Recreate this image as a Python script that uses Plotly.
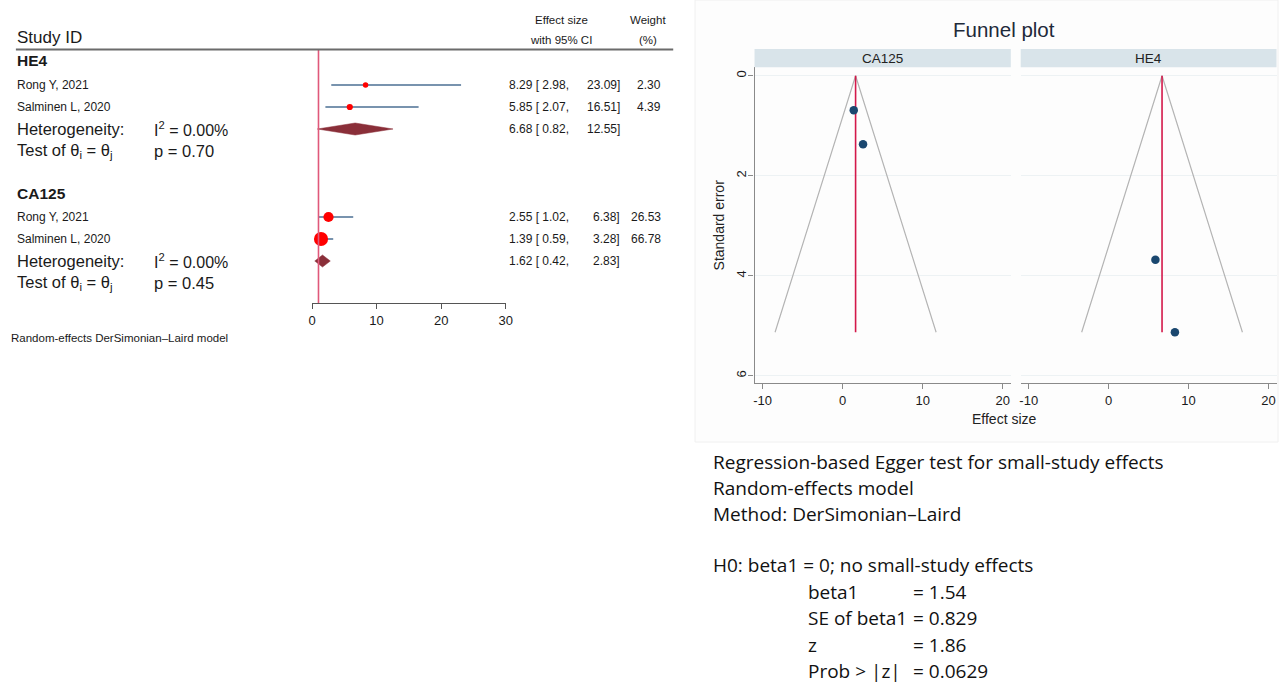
import plotly.graph_objects as go

W, H = 1285, 683

# ---------------- data ----------------
groups = ["HE4", "CA125"]
studies = ["Rong Y, 2021", "Salminen L, 2020"]
es = {"HE4": [8.29, 5.85], "CA125": [2.55, 1.39]}
lo = {"HE4": [2.98, 2.07], "CA125": [1.02, 0.59]}
hi = {"HE4": [23.09, 16.51], "CA125": [6.38, 3.28]}
weight = {"HE4": [2.30, 4.39], "CA125": [26.53, 66.78]}
pooled_es = {"HE4": 6.68, "CA125": 1.62}
pooled_lo = {"HE4": 0.82, "CA125": 0.42}
pooled_hi = {"HE4": 12.55, "CA125": 2.83}
i2 = {"HE4": 0.00, "CA125": 0.00}
p_het = {"HE4": 0.70, "CA125": 0.45}
null_value = 1
forest_ticks = [0, 10, 20, 30]

funnel_panels = ["CA125", "HE4"]
funnel_se = {"CA125": [1.37, 0.69], "HE4": [5.13, 3.68]}
funnel_ticks_x = [-10, 0, 10, 20]
funnel_ticks_y = [0, 2, 4, 6]

egger_header = ["Regression-based Egger test for small-study effects",
                "Random-effects model",
                "Method: DerSimonian\u2013Laird"]
egger_h0 = "H0: beta1 = 0; no small-study effects"
egger_labels = ["beta1", "SE of beta1", "z", "Prob > |z|"]
egger_values = ["1.54", "0.829", "1.86", "0.0629"]

# ---------------- helpers ----------------
def px(x):
    return x / W

def py(y):
    return 1 - y / H

ROW0, ROWH = 63.0, 22.0

def row_of(ypx):
    return (ypx - ROW0) / ROWH

ARIAL = "Liberation Sans, Arial, sans-serif"
MYR = "Open Sans, Noto Sans, sans-serif"

fig = go.Figure()
ann = []
shapes = []

def text(x, y, s, size, anchor="left", font=ARIAL, color="#1a1a1a", bold=False, yshift=0):
    ann.append(dict(x=px(x), y=py(y), xref="paper", yref="paper", text=("<b>%s</b>" % s) if bold else s,
                    showarrow=False, xanchor=anchor, yanchor="middle", yshift=yshift, borderpad=0,
                    font=dict(family=font, size=size, color=color)))

LX = 12  # left text column of forest plot

# ---------------- forest plot ----------------
CI_COLOR = "#4b6f93"
group_rows = {"HE4": 0, "CA125": 6}
for g in groups:
    r0 = group_rows[g]
    text(LX, ROW0 + ROWH * r0, g, 15.5, bold=True, yshift=2)
    for k, s in enumerate(studies):
        r = r0 + 1 + k
        yy = ROW0 + ROWH * r
        fig.add_trace(go.Scatter(x=[lo[g][k], hi[g][k]], y=[r, r], mode="lines",
                                 line=dict(color=CI_COLOR, width=1.4), xaxis="x", yaxis="y",
                                 showlegend=False, hoverinfo="skip"))
        fig.add_trace(go.Scatter(x=[es[g][k]], y=[r], mode="markers",
                                 marker=dict(color="#ff0000", size=3.5 + 1.3 * weight[g][k] ** 0.5, line=dict(width=0)),
                                 xaxis="x", yaxis="y", showlegend=False, cliponaxis=False))
        text(LX, yy, s, 12)
        text(508, yy, "%.2f [ %.2f," % (es[g][k], lo[g][k]), 12)
        text(622, yy, "%.2f]" % hi[g][k], 12, anchor="right")
        text(664, yy, "%.2f" % weight[g][k], 12, anchor="right")
    # pooled diamond
    r = r0 + 3
    h = 6.0 / ROWH
    fig.add_trace(go.Scatter(x=[pooled_lo[g], pooled_es[g], pooled_hi[g], pooled_es[g], pooled_lo[g]],
                             y=[r, r - h, r, r + h, r], mode="lines", fill="toself",
                             fillcolor="#8a2f39", line=dict(color="#8a2f39", width=0.5),
                             xaxis="x", yaxis="y", showlegend=False, hoverinfo="skip"))
    yy = ROW0 + ROWH * r
    text(LX, yy, "Heterogeneity:", 16.5)
    text(150, yy, "I<sup>2</sup> = %.2f%%" % i2[g], 16)
    text(508, yy, "%.2f [ %.2f," % (pooled_es[g], pooled_lo[g]), 12)
    text(622, yy, "%.2f]" % pooled_hi[g], 12, anchor="right")
    yy = ROW0 + ROWH * (r + 1)
    text(LX, yy, "Test of \u03b8<sub>i</sub> = \u03b8<sub>j</sub>", 16.5)
    text(150, yy, "p = %.2f" % p_het[g], 16.5)

# null line
fig.add_trace(go.Scatter(x=[null_value, null_value], y=[row_of(50), row_of(303.3)], mode="lines",
                         line=dict(color="#e0587a", width=1.6), xaxis="x", yaxis="y",
                         showlegend=False, hoverinfo="skip", cliponaxis=False))

# header texts
text(LX, 38, "Study ID", 17)
text(562, 20, "Effect size", 11.5, anchor="center")
text(562, 40, "with 95% CI", 11.5, anchor="center")
text(650, 20, "Weight", 11.5, anchor="center")
text(650, 40, "(%)", 11.5, anchor="center")
shapes.append(dict(type="line", xref="paper", yref="paper", x0=px(12), x1=px(675), y0=py(49.5), y1=py(49.5),
                   line=dict(color="#6b6b6b", width=2)))
text(6, 338, "Random-effects DerSimonian\u2013Laird model", 11.5)

# ---------------- funnel plot ----------------
shapes.append(dict(type="rect", xref="paper", yref="paper", x0=px(697), x1=px(1285), y0=py(442), y1=py(0),
                   fillcolor="#fdfdfd", line=dict(color="#f0f0f0", width=1), layer="below"))

semax = max(max(v) for v in funnel_se.values())
panel_dom = {"CA125": (757, 1015.5), "HE4": (1025.5, 1283.5)}
panel_axes = {"CA125": ("x2", "y2"), "HE4": ("x3", "y3")}
for g in funnel_panels:
    xa, ya = panel_axes[g]
    theta = pooled_es[g]
    fig.add_trace(go.Scatter(x=[theta - 1.96 * semax, theta, theta + 1.96 * semax], y=[semax, 0, semax],
                             mode="lines", line=dict(color="#b4b4b4", width=1.2), xaxis=xa, yaxis=ya,
                             showlegend=False, hoverinfo="skip"))
    fig.add_trace(go.Scatter(x=[theta, theta], y=[0, semax], mode="lines",
                             line=dict(color="#d3184a", width=1.6), xaxis=xa, yaxis=ya,
                             showlegend=False, hoverinfo="skip"))
    fig.add_trace(go.Scatter(x=es[g], y=funnel_se[g], mode="markers",
                             marker=dict(color="#1a476f", size=8.5, line=dict(width=0)),
                             xaxis=xa, yaxis=ya, showlegend=False, cliponaxis=False))
    x0, x1 = panel_dom[g]
    shapes.append(dict(type="rect", xref="paper", yref="paper", x0=px(x0), x1=px(x1), y0=py(67.3), y1=py(49),
                       fillcolor="#d9e4ea", line=dict(width=0)))
    text((x0 + x1) / 2, 58, g, 13.5, anchor="center", color="#222222")

text(1009, 30, "Funnel plot", 20.5, anchor="center", color="#1e2a3a")
text(1009, 419, "Effect size", 14, anchor="center", color="#222222")

# Egger text
EF = 19
for i, s in enumerate(egger_header):
    text(714, 462 + 25.8 * i, s, EF, font=MYR, color="#111111")
text(714, 564.5, egger_h0, EF, font=MYR, color="#111111")
for i, (lab, val) in enumerate(zip(egger_labels, egger_values)):
    yy = 591.5 + 26.6 * i
    text(810, yy, lab, EF, font=MYR, color="#111111")
    text(916, yy, "= " + val, EF, font=MYR, color="#111111")

# ---------------- layout ----------------
fdom = [px(310.7), px(506)]
ydom_f = [py(383.3), py(67.3)]
tick_font = dict(family=ARIAL, size=13, color="#1a1a1a")
fig.update_layout(
    width=W, height=H, margin=dict(l=0, r=0, t=0, b=0),
    paper_bgcolor="white", plot_bgcolor="rgba(0,0,0,0)",
    annotations=ann, shapes=shapes,
    xaxis=dict(domain=fdom, range=[0, 30], anchor="free", position=py(303.3),
               showline=True, linecolor="#555555", linewidth=1.2, ticks="outside", ticklen=5,
               tickcolor="#555555", tickvals=forest_ticks, showgrid=False, zeroline=False,
               tickfont=tick_font),
    yaxis=dict(domain=[0, 1], range=[row_of(H), row_of(0)], visible=False, anchor="free", position=0),
    xaxis2=dict(domain=[px(757), px(1015.5)], range=[-11, 21], anchor="y2", showline=True,
                linecolor="#8a8a8a", linewidth=1.2, ticks="outside", ticklen=5, tickcolor="#8a8a8a",
                tickvals=funnel_ticks_x, ticktext=[str(v) for v in funnel_ticks_x],
                showgrid=False, zeroline=False, tickfont=tick_font),
    yaxis2=dict(domain=ydom_f, range=[6.15, -0.17], anchor="x2", showline=True, linecolor="#8a8a8a",
                linewidth=1.2, ticks="outside", ticklen=5, tickcolor="#8a8a8a", tickvals=funnel_ticks_y,
                tickangle=-90, showgrid=True, gridcolor="#edf2f4", gridwidth=1.2, zeroline=False,
                tickfont=tick_font, ticklabelstandoff=-3,
                title=dict(text="Standard error", standoff=6, font=dict(family=ARIAL, size=14, color="#222222"))),
    xaxis3=dict(domain=[px(1025.5), px(1283.5)], range=[-11, 21], anchor="y3", showline=True,
                linecolor="#8a8a8a", linewidth=1.2, ticks="outside", ticklen=5, tickcolor="#8a8a8a",
                tickvals=funnel_ticks_x, ticktext=[str(v) for v in funnel_ticks_x],
                showgrid=False, zeroline=False, tickfont=tick_font),
    yaxis3=dict(domain=ydom_f, range=[6.15, -0.17], anchor="x3", showline=False, showticklabels=False,
                ticks="", tickvals=funnel_ticks_y, showgrid=True, gridcolor="#edf2f4", gridwidth=1.2,
                zeroline=False),
)

fig.write_html("out.html", config={"displayModeBar": False},
               post_script="document.body.style.margin='0';document.body.style.overflow='hidden';")
